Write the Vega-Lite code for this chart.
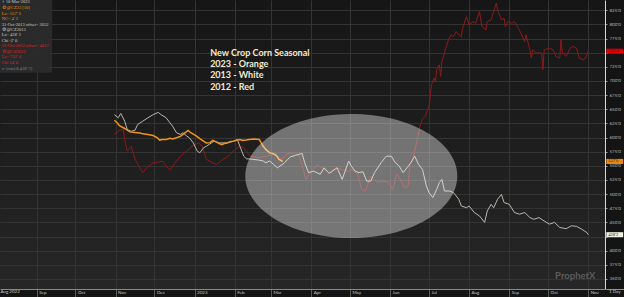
{
  "$schema": "https://vega.github.io/schema/vega-lite/v6.json",
  "width": 605,
  "height": 289,
  "autosize": "none",
  "padding": {"left": 0, "top": 0, "right": 19, "bottom": 8},
  "background": "#141414",
  "config": {
    "font": "Lato",
    "view": {"stroke": null, "fill": {"gradient": "linear", "x1": 0, "y1": 0, "x2": 0, "y2": 1, "stops": [{"offset": 0, "color": "#161616"}, {"offset": 1, "color": "#262626"}]}}
  },
  "datasets": {
    "orange": [
      {"date":"2022-10-31","price":630.5},{"date":"2022-11-02","price":626.5},{"date":"2022-11-04","price":621},{"date":"2022-11-08","price":616},{"date":"2022-11-12","price":610},{"date":"2022-11-16","price":609},{"date":"2022-11-20","price":608},{"date":"2022-11-22","price":606.5},{"date":"2022-11-26","price":605.5},{"date":"2022-11-30","price":603.5},{"date":"2022-12-03","price":600},{"date":"2022-12-05","price":595.5},{"date":"2022-12-07","price":596.5},{"date":"2022-12-10","price":596.5},{"date":"2022-12-13","price":598.5},{"date":"2022-12-15","price":597.5},{"date":"2022-12-18","price":599.5},{"date":"2022-12-21","price":602},{"date":"2022-12-23","price":605.5},{"date":"2022-12-25","price":609},{"date":"2022-12-27","price":612.5},{"date":"2022-12-29","price":608.5},{"date":"2023-01-02","price":603.5},{"date":"2023-01-05","price":598},{"date":"2023-01-07","price":595},{"date":"2023-01-10","price":590.5},{"date":"2023-01-13","price":591},{"date":"2023-01-15","price":595},{"date":"2023-01-18","price":592},{"date":"2023-01-20","price":589.5},{"date":"2023-01-22","price":587.5},{"date":"2023-01-24","price":589.5},{"date":"2023-01-26","price":590.5},{"date":"2023-01-29","price":593},{"date":"2023-01-31","price":593.5},{"date":"2023-02-02","price":595},{"date":"2023-02-05","price":596.5},{"date":"2023-02-07","price":595},{"date":"2023-02-10","price":595.5},{"date":"2023-02-12","price":596.5},{"date":"2023-02-16","price":597.5},{"date":"2023-02-20","price":596.5},{"date":"2023-02-23","price":584.5},{"date":"2023-02-25","price":579},{"date":"2023-02-28","price":573},{"date":"2023-03-02","price":572},{"date":"2023-03-04","price":570},{"date":"2023-03-06","price":566},{"date":"2023-03-07","price":561.5},{"date":"2023-03-09","price":559},{"date":"2023-03-10","price":557.75}
    ],
    "white": [
      {"date":"2022-10-31","price":640.5},{"date":"2022-11-03","price":635},{"date":"2022-11-05","price":642.5},{"date":"2022-11-08","price":629},{"date":"2022-11-10","price":614},{"date":"2022-11-13","price":611},{"date":"2022-11-16","price":613},{"date":"2022-11-18","price":623},{"date":"2022-11-22","price":629},{"date":"2022-11-26","price":635},{"date":"2022-11-30","price":640.5},{"date":"2022-12-04","price":644.5},{"date":"2022-12-06","price":640.5},{"date":"2022-12-10","price":635},{"date":"2022-12-13","price":626},{"date":"2022-12-15","price":620},{"date":"2022-12-18","price":608.5},{"date":"2022-12-21","price":605.5},{"date":"2022-12-23","price":608.5},{"date":"2022-12-26","price":602.5},{"date":"2022-12-28","price":599.5},{"date":"2022-12-31","price":590.5},{"date":"2023-01-03","price":576},{"date":"2023-01-05","price":573},{"date":"2023-01-08","price":582},{"date":"2023-01-10","price":584.5},{"date":"2023-01-14","price":590.5},{"date":"2023-01-16","price":593.5},{"date":"2023-01-20","price":590.5},{"date":"2023-01-26","price":590.5},{"date":"2023-01-31","price":593.5},{"date":"2023-02-03","price":596.5},{"date":"2023-02-05","price":584.5},{"date":"2023-02-08","price":567},{"date":"2023-02-10","price":562.5},{"date":"2023-02-15","price":561.5},{"date":"2023-02-20","price":560},{"date":"2023-02-23","price":558.5},{"date":"2023-02-25","price":555.5},{"date":"2023-02-28","price":558.5},{"date":"2023-03-03","price":552.5},{"date":"2023-03-06","price":546.5},{"date":"2023-03-11","price":554.5},{"date":"2023-03-16","price":566},{"date":"2023-03-20","price":568.5},{"date":"2023-03-25","price":572},{"date":"2023-03-27","price":555.5},{"date":"2023-03-30","price":538},{"date":"2023-04-03","price":540.5},{"date":"2023-04-08","price":535},{"date":"2023-04-11","price":546.5},{"date":"2023-04-15","price":536.5},{"date":"2023-04-21","price":546.5},{"date":"2023-04-25","price":526},{"date":"2023-04-30","price":558.5},{"date":"2023-05-02","price":549.5},{"date":"2023-05-05","price":540.5},{"date":"2023-05-08","price":538},{"date":"2023-05-11","price":539.5},{"date":"2023-05-14","price":523},{"date":"2023-05-17","price":523},{"date":"2023-05-20","price":538},{"date":"2023-05-25","price":555.5},{"date":"2023-05-29","price":567},{"date":"2023-06-02","price":567},{"date":"2023-06-05","price":555.5},{"date":"2023-06-08","price":549.5},{"date":"2023-06-11","price":538},{"date":"2023-06-14","price":546.5},{"date":"2023-06-17","price":555.5},{"date":"2023-06-20","price":567},{"date":"2023-06-23","price":552.5},{"date":"2023-06-26","price":543.5},{"date":"2023-06-29","price":514.5},{"date":"2023-07-01","price":502.5},{"date":"2023-07-04","price":494},{"date":"2023-07-07","price":508.5},{"date":"2023-07-09","price":520.5},{"date":"2023-07-11","price":526},{"date":"2023-07-13","price":505.5},{"date":"2023-07-17","price":505.5},{"date":"2023-07-20","price":502.5},{"date":"2023-07-24","price":491},{"date":"2023-07-26","price":479},{"date":"2023-07-30","price":476},{"date":"2023-08-01","price":479},{"date":"2023-08-05","price":467.5},{"date":"2023-08-09","price":461.5},{"date":"2023-08-13","price":450},{"date":"2023-08-15","price":470},{"date":"2023-08-18","price":482},{"date":"2023-08-20","price":476},{"date":"2023-08-23","price":491},{"date":"2023-08-26","price":499.5},{"date":"2023-08-28","price":485},{"date":"2023-09-01","price":482},{"date":"2023-09-05","price":467.5},{"date":"2023-09-09","price":464.5},{"date":"2023-09-13","price":467.5},{"date":"2023-09-17","price":458.5},{"date":"2023-09-20","price":455.5},{"date":"2023-09-24","price":458.5},{"date":"2023-09-28","price":452.5},{"date":"2023-10-02","price":447},{"date":"2023-10-06","price":450},{"date":"2023-10-10","price":441},{"date":"2023-10-15","price":439},{"date":"2023-10-19","price":444},{"date":"2023-10-23","price":443},{"date":"2023-10-27","price":438},{"date":"2023-10-31","price":432},{"date":"2023-11-01","price":428.25}
    ],
    "red": [
      {"date":"2022-10-31","price":605.5},{"date":"2022-11-04","price":613},{"date":"2022-11-07","price":614},{"date":"2022-11-08","price":596.5},{"date":"2022-11-10","price":576},{"date":"2022-11-13","price":584.5},{"date":"2022-11-16","price":561.5},{"date":"2022-11-19","price":549.5},{"date":"2022-11-22","price":538},{"date":"2022-11-25","price":546.5},{"date":"2022-11-30","price":555.5},{"date":"2022-12-04","price":556.5},{"date":"2022-12-07","price":558.5},{"date":"2022-12-10","price":549.5},{"date":"2022-12-13","price":542.5},{"date":"2022-12-17","price":555.5},{"date":"2022-12-21","price":567},{"date":"2022-12-26","price":576},{"date":"2022-12-30","price":584.5},{"date":"2023-01-04","price":590.5},{"date":"2023-01-07","price":584.5},{"date":"2023-01-10","price":561.5},{"date":"2023-01-15","price":555.5},{"date":"2023-01-18","price":552.5},{"date":"2023-01-23","price":561.5},{"date":"2023-01-27","price":567},{"date":"2023-02-01","price":579},{"date":"2023-02-05","price":584.5},{"date":"2023-02-08","price":582},{"date":"2023-02-13","price":567},{"date":"2023-02-19","price":564.5},{"date":"2023-02-25","price":567},{"date":"2023-03-03","price":570},{"date":"2023-03-09","price":561.5},{"date":"2023-03-14","price":572},{"date":"2023-03-19","price":573},{"date":"2023-03-23","price":567},{"date":"2023-03-28","price":526},{"date":"2023-04-02","price":543.5},{"date":"2023-04-06","price":551.5},{"date":"2023-04-11","price":543.5},{"date":"2023-04-15","price":538},{"date":"2023-04-20","price":546.5},{"date":"2023-04-25","price":543.5},{"date":"2023-04-30","price":540.5},{"date":"2023-05-02","price":543.5},{"date":"2023-05-07","price":535},{"date":"2023-05-10","price":508.5},{"date":"2023-05-13","price":505.5},{"date":"2023-05-17","price":532},{"date":"2023-05-22","price":520.5},{"date":"2023-05-26","price":523},{"date":"2023-05-31","price":520.5},{"date":"2023-06-03","price":508.5},{"date":"2023-06-06","price":535},{"date":"2023-06-09","price":526},{"date":"2023-06-12","price":511.5},{"date":"2023-06-15","price":514.5},{"date":"2023-06-16","price":546.5},{"date":"2023-06-19","price":567},{"date":"2023-06-22","price":596.5},{"date":"2023-06-24","price":620},{"date":"2023-06-26","price":633},{"date":"2023-06-28","price":637.5},{"date":"2023-07-01","price":655},{"date":"2023-07-02","price":673},{"date":"2023-07-03","price":693.5},{"date":"2023-07-05","price":705},{"date":"2023-07-06","price":699},{"date":"2023-07-07","price":720},{"date":"2023-07-09","price":728.5},{"date":"2023-07-10","price":708},{"date":"2023-07-11","price":734.5},{"date":"2023-07-14","price":758},{"date":"2023-07-16","price":772.5},{"date":"2023-07-18","price":781.5},{"date":"2023-07-20","price":778.5},{"date":"2023-07-22","price":787.5},{"date":"2023-07-24","price":781.5},{"date":"2023-07-26","price":778.5},{"date":"2023-07-27","price":793.5},{"date":"2023-07-30","price":813.5},{"date":"2023-08-01","price":799},{"date":"2023-08-04","price":805},{"date":"2023-08-06","price":802},{"date":"2023-08-09","price":822.5},{"date":"2023-08-11","price":796},{"date":"2023-08-14","price":790.5},{"date":"2023-08-15","price":805},{"date":"2023-08-18","price":808},{"date":"2023-08-20","price":822.5},{"date":"2023-08-22","price":837.5},{"date":"2023-08-23","price":825.5},{"date":"2023-08-26","price":808},{"date":"2023-08-28","price":811},{"date":"2023-08-29","price":796},{"date":"2023-08-31","price":805},{"date":"2023-09-03","price":802},{"date":"2023-09-05","price":805},{"date":"2023-09-08","price":793.5},{"date":"2023-09-10","price":784.5},{"date":"2023-09-13","price":769.5},{"date":"2023-09-14","price":781.5},{"date":"2023-09-17","price":755},{"date":"2023-09-18","price":740.5},{"date":"2023-09-19","price":755},{"date":"2023-09-22","price":749.5},{"date":"2023-09-26","price":749.5},{"date":"2023-09-27","price":720},{"date":"2023-09-28","price":755},{"date":"2023-10-02","price":758},{"date":"2023-10-05","price":755},{"date":"2023-10-07","price":743.5},{"date":"2023-10-10","price":740.5},{"date":"2023-10-11","price":772.5},{"date":"2023-10-12","price":749.5},{"date":"2023-10-15","price":743.5},{"date":"2023-10-18","price":758},{"date":"2023-10-20","price":761},{"date":"2023-10-23","price":758},{"date":"2023-10-25","price":740.5},{"date":"2023-10-28","price":737.5},{"date":"2023-10-30","price":740.5},{"date":"2023-11-01","price":752.5}
    ],
    "notes": [
      {"date":"2023-01-13","price":744.5,"label":"New Crop Corn Seasonal"},
      {"date":"2023-01-13","price":724.5,"label":"2023 - Orange"},
      {"date":"2023-01-13","price":705,"label":"2013 - White"},
      {"date":"2023-01-13","price":684.5,"label":"2012 - Red"}
    ],
    "ellipse": [{"date":"2023-05-02","price":532}],
    "legendbox": [{"start":"2022-08-02","end":"2022-09-13","top":843,"bottom":714.5}],
    "legendtext": [
      {"date":"2022-08-05","price":839,"label":"⌖ 10-Mar-2023","group":"header"},
      {"date":"2022-08-05","price":828.5,"label":"⚙ @CZ23 [10]","group":"2023"},
      {"date":"2022-08-05","price":818.5,"label":"La= 557' 6","group":"2023"},
      {"date":"2022-08-05","price":809,"label":"NC= 4' 2","group":"2023"},
      {"date":"2022-08-05","price":799.5,"label":"31-Oct-2013 offset= 3652","group":"2013"},
      {"date":"2022-08-05","price":789.5,"label":"⚙ @CZ2013","group":"2013"},
      {"date":"2022-08-05","price":780.5,"label":"La= 428' 2","group":"2013"},
      {"date":"2022-08-05","price":770.5,"label":"Chi -2' 0","group":"2013"},
      {"date":"2022-08-05","price":761,"label":"31-Oct-2012 offset= 4017","group":"2012"},
      {"date":"2022-08-05","price":751,"label":"⚙ @CZ2012","group":"2012"},
      {"date":"2022-08-05","price":741.5,"label":"La= 752' 4","group":"2012"},
      {"date":"2022-08-05","price":731.5,"label":"Chi 14' 0","group":"2012"},
      {"date":"2022-08-05","price":721.5,"label":"x=(var) 8.418' 7)","group":"footer"}
    ],
    "tags": [
      {"start":"2023-11-15","end":"2023-11-28","top":757,"bottom":748,"mid":752.5,"label":"752'4","series":"2012"},
      {"start":"2023-11-15","end":"2023-11-28","top":562.25,"bottom":553.25,"mid":557.75,"label":"557'6","series":"2023"},
      {"start":"2023-11-15","end":"2023-11-28","top":432.75,"bottom":423.75,"mid":428.25,"label":"428'2","series":"2013"}
    ],
    "daybar": [{"start":"2023-11-15","end":"2023-11-29","top":332.3,"bottom":331.2}],
    "brand": [{"date":"2023-10-22","price":355.7,"label":"ProphetX"}],
    "bandtext": [
      {"date":"2023-11-17","price":327,"label":"1 Day"},
      {"date":"2022-08-04","price":327,"label":"Aug 2022"}
    ]
  },
  "encoding": {
    "x": {
      "field": "date", "type": "temporal", "title": null,
      "scale": {"domain": [{"year":2022,"month":8,"date":3,"hours":17,"utc":true},{"year":2023,"month":11,"date":13,"hours":23,"utc":true}]},
      "axis": {
        "values": [
          {"year":2022,"month":9,"date":1,"utc":true},{"year":2022,"month":10,"date":1,"utc":true},{"year":2022,"month":11,"date":1,"utc":true},{"year":2022,"month":12,"date":1,"utc":true},
          {"year":2023,"month":1,"date":1,"utc":true},{"year":2023,"month":2,"date":1,"utc":true},{"year":2023,"month":3,"date":1,"utc":true},{"year":2023,"month":4,"date":1,"utc":true},{"year":2023,"month":5,"date":1,"utc":true},{"year":2023,"month":6,"date":1,"utc":true},{"year":2023,"month":7,"date":1,"utc":true},{"year":2023,"month":8,"date":1,"utc":true},{"year":2023,"month":9,"date":1,"utc":true},{"year":2023,"month":10,"date":1,"utc":true},{"year":2023,"month":11,"date":1,"utc":true}
        ],
        "labelExpr": "utcmonth(datum.value)==0 ? utcFormat(datum.value,'%Y') : utcFormat(datum.value,'%b')",
        "labelAlign": "left", "labelBaseline": "top", "labelOffset": 2, "labelPadding": -7.5,
        "labelFontSize": 4.5, "labelColor": "#c8c8c0", "labelFlush": false, "labelOverlap": false, "labelBound": false,
        "tickSize": 8, "tickColor": "#5a5a55", "domainColor": "#8a8a80",
        "grid": true, "gridColor": "#343434", "gridWidth": 1
      }
    },
    "y": {
      "field": "price", "type": "quantitative", "title": null,
      "scale": {"domain": [332.3, 843.1], "nice": false, "zero": false},
      "axis": {
        "orient": "right",
        "values": [350,375,400,425,450,475,500,525,550,575,600,625,650,675,700,725,750,775,800,825],
        "labelExpr": "(datum.value == 750 || datum.value == 425) ? '' : datum.value + \"'0\"",
        "labelFontSize": 4.5, "labelColor": "#bdbdb5", "labelPadding": 2, "labelAlign": "left",
        "tickSize": 2, "tickColor": "#9a9a9a", "domainColor": "#d8d8d0",
        "grid": true, "gridColor": "#343434", "gridWidth": 1
      }
    }
  },
  "layer": [
    {
      "data": {"name": "legendbox"},
      "mark": {"type": "rect", "fill": "#2b2b2b", "opacity": 0.95},
      "encoding": {"x": {"field": "start", "type": "temporal"}, "x2": {"field": "end"}, "y": {"field": "top", "type": "quantitative"}, "y2": {"field": "bottom"}}
    },
    {"data": {"name": "red"}, "mark": {"type": "line", "color": "#8e1a1a", "strokeWidth": 1}},
    {"data": {"name": "white"}, "mark": {"type": "line", "color": "#b9b7ad", "strokeWidth": 1}},
    {"data": {"name": "orange"}, "mark": {"type": "line", "color": "#f0951a", "strokeWidth": 1.5}},
    {
      "data": {"name": "ellipse"},
      "mark": {"type": "point", "filled": true, "shape": "M-1,0A1,0.585,0,1,0,1,0A1,0.585,0,1,0,-1,0Z", "size": 44944, "color": "#ffffff", "fillOpacity": 0.38, "strokeWidth": 0}
    },
    {
      "data": {"name": "notes"},
      "mark": {"type": "text", "align": "left", "baseline": "alphabetic", "font": "Lato", "fontWeight": "bold", "fontSize": 9, "color": "#f3ead0"},
      "encoding": {"text": {"field": "label"}}
    },
    {
      "data": {"name": "legendtext"},
      "mark": {"type": "text", "align": "left", "baseline": "middle", "font": "Liberation Sans Narrow", "fontSize": 4.5},
      "encoding": {
        "text": {"field": "label"},
        "color": {"field": "group", "type": "nominal", "legend": null, "scale": {"domain": ["header","2023","2013","2012","footer"], "range": ["#d0d0c8","#e8900c","#cfcfc8","#e02020","#8a8a8a"]}}
      }
    },
    {
      "data": {"name": "tags"},
      "mark": {"type": "rect", "clip": false},
      "encoding": {
        "x": {"field": "start", "type": "temporal"}, "x2": {"field": "end"},
        "y": {"field": "top", "type": "quantitative"}, "y2": {"field": "bottom"},
        "color": {"field": "series", "type": "nominal", "legend": null, "scale": {"domain": ["2023","2013","2012"], "range": ["#e8870e","#f2f0e2","#e00000"]}}
      }
    },
    {
      "data": {"name": "tags"},
      "mark": {"type": "text", "align": "left", "baseline": "middle", "dx": 2, "fontSize": 4.5, "font": "Liberation Sans Narrow", "color": "#222222"},
      "encoding": {"x": {"field": "start", "type": "temporal"}, "y": {"field": "mid", "type": "quantitative"}, "text": {"field": "label"}}
    },
    {
      "data": {"name": "daybar"},
      "mark": {"type": "rect", "clip": false, "fill": "#e8e8e0"},
      "encoding": {"x": {"field": "start", "type": "temporal"}, "x2": {"field": "end"}, "y": {"field": "top", "type": "quantitative"}, "y2": {"field": "bottom"}}
    },
    {
      "data": {"name": "brand"},
      "mark": {"type": "text", "align": "center", "baseline": "middle", "font": "Lato", "fontWeight": "bold", "fontSize": 9.5, "color": "#5c5c5c"},
      "encoding": {"text": {"field": "label"}}
    },
    {
      "data": {"name": "bandtext"},
      "mark": {"type": "text", "align": "left", "baseline": "middle", "font": "Lato", "fontSize": 4.5, "color": "#c8c8c0"},
      "encoding": {"text": {"field": "label"}}
    }
  ],
  "resolve": {"scale": {"color": "independent"}}
}
